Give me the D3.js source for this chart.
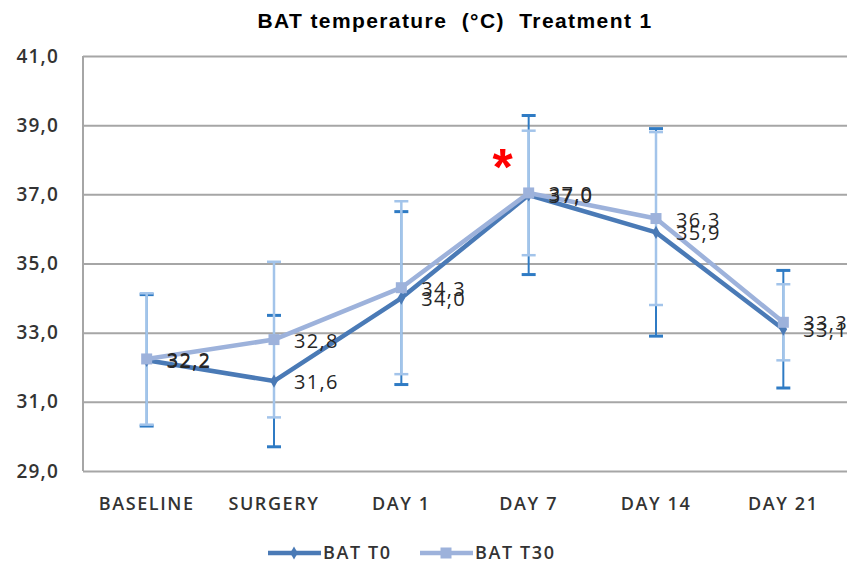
<!DOCTYPE html>
<html>
<head>
<meta charset="utf-8">
<script src="https://cdn.jsdelivr.net/npm/d3@7"></script>
<style>
  html, body { margin: 0; padding: 0; background: #fff; }
  svg { display: block; }
</style>
</head>
<body>
<svg id="chart" width="851" height="567"></svg>
<script>
// ---- data ----
const categories = ["BASELINE", "SURGERY", "DAY 1", "DAY 7", "DAY 14", "DAY 21"];
const seriesNames = ["BAT T0", "BAT T30"];
const t0Values  = [32.2, 31.6, 34.0, 36.98, 35.9, 33.1];
const t30Values = [32.24, 32.8, 34.3, 37.04, 36.3, 33.3];
const t0Errors  = [1.9, 1.9, 2.5, 2.3, 3.0, 1.7];
const t30Errors = [1.9, 2.25, 2.5, 1.8, 2.5, 1.1];
const yTicks = [29, 31, 33, 35, 37, 39, 41];
const titleText = "BAT temperature  (°C)  Treatment 1";
const significant = ["DAY 7"];

// ---- layout ----
const svg = d3.select("#chart");
const plotL = 83, plotR = 847, plotT = 56, plotB = 471;

const x = d3.scaleBand().domain(categories).range([plotL, plotR]);
const cx = c => x(c) + x.bandwidth() / 2;
const y = d3.scaleLinear().domain([29, 41]).range([plotB, plotT]);

const fmt = v => v.toFixed(1).replace(".", ",");

const colT0 = "#4a7ab6", colT30 = "#9db2db";
const errT0 = "#2f7bc4", errT30 = "#a3c4ea";
const axisFont = "'Open Sans', sans-serif";

// title
svg.append("text")
  .attr("x", 455).attr("y", 28)
  .attr("text-anchor", "middle")
  .attr("font-family", "'Liberation Sans', Arial, sans-serif")
  .attr("font-weight", "bold")
  .attr("font-size", 21)
  .attr("letter-spacing", 1.4)
  .attr("fill", "#000")
  .style("white-space", "pre")
  .text(titleText);

// y axis with gridlines
const yAxis = d3.axisLeft(y).tickValues(yTicks).tickSize(-(plotR - plotL)).tickFormat(d => fmt(d));
const gy = svg.append("g").attr("transform", `translate(${plotL},0)`).call(yAxis);
gy.select(".domain").attr("stroke", "#a6a6a6").attr("stroke-width", 2).attr("d", `M0,${plotT}V${plotB}`);
gy.selectAll(".tick line").attr("stroke", "#a6a6a6").attr("stroke-width", 2);
gy.selectAll(".tick text")
  .attr("x", -24)
  .attr("font-family", axisFont)
  .attr("font-weight", 600)
  .attr("font-size", 19)
  .attr("letter-spacing", 1.2)
  .attr("fill", "#333");

// x axis labels
const xAxis = d3.axisBottom(x).tickSize(0).tickPadding(0);
const gx = svg.append("g").attr("transform", `translate(0,${plotB})`).call(xAxis);
gx.select(".domain").remove();
gx.selectAll(".tick text")
  .attr("y", 33)
  .attr("dy", "0.35em")
  .attr("font-family", axisFont)
  .attr("font-weight", 600)
  .attr("font-size", 18)
  .attr("letter-spacing", 1.6)
  .attr("fill", "#333");

// error bars
function drawErr(values, errs, color, vw, cw, capHalf) {
  const g = svg.append("g");
  categories.forEach((c, i) => {
    const xx = cx(c), hi = y(values[i] + errs[i]), lo = y(values[i] - errs[i]);
    g.append("line").attr("x1", xx).attr("x2", xx).attr("y1", hi).attr("y2", lo)
      .attr("stroke", color).attr("stroke-width", vw);
    [hi, lo].forEach(yy => g.append("line")
      .attr("x1", xx - capHalf).attr("x2", xx + capHalf).attr("y1", yy).attr("y2", yy)
      .attr("stroke", color).attr("stroke-width", cw));
  });
}
drawErr(t0Values, t0Errors, errT0, 2, 3, 7);
drawErr(t30Values, t30Errors, errT30, 2.5, 2.5, 7);

// lines
const line = d3.line().x((d, i) => cx(categories[i])).y(d => y(d));
svg.append("path").datum(t0Values).attr("d", line)
  .attr("fill", "none").attr("stroke", colT0).attr("stroke-width", 4.5).attr("stroke-linejoin", "round");
svg.append("path").datum(t30Values).attr("d", line)
  .attr("fill", "none").attr("stroke", colT30).attr("stroke-width", 4.5).attr("stroke-linejoin", "round");

// markers
const diamond = d3.symbol().type(d3.symbolDiamond).size(50);
svg.append("g").selectAll("path").data(t0Values).join("path")
  .attr("d", diamond)
  .attr("transform", (d, i) => `translate(${cx(categories[i])},${y(d)})`)
  .attr("fill", colT0);
const sq = 11;
svg.append("g").selectAll("rect").data(t30Values).join("rect")
  .attr("x", (d, i) => cx(categories[i]) - sq / 2)
  .attr("y", d => y(d) - sq / 2)
  .attr("width", sq).attr("height", sq)
  .attr("fill", colT30);

// data labels
function drawLabels(values, dyOff) {
  svg.append("g").selectAll("text").data(values).join("text")
    .attr("x", (d, i) => cx(categories[i]) + 20)
    .attr("y", d => y(d) + dyOff)
    .attr("dy", "0.35em")
    .attr("font-family", axisFont)
    .attr("font-size", 20)
    .attr("letter-spacing", 1.3)
    .attr("fill", "#262626")
    .text(d => fmt(d));
}
drawLabels(t0Values, 1);
drawLabels(t30Values, 1);

// significance marker
significant.forEach(c => {
  const i = categories.indexOf(c);
  svg.append("text")
    .attr("x", cx(c) - 26)
    .attr("y", y(Math.max(t0Values[i] + t0Errors[i], t30Values[i] + t30Errors[i])) + 70)
    .attr("text-anchor", "middle")
    .attr("font-family", "'Liberation Sans', Arial, sans-serif")
    .attr("font-weight", "bold")
    .attr("font-size", 52)
    .attr("fill", "#ff0000")
    .text("*");
});

// legend
const legY = 553;
const legend = svg.append("g");
const legItems = [
  { name: seriesNames[0], color: colT0, x0: 268, type: "diamond" },
  { name: seriesNames[1], color: colT30, x0: 420, type: "square" }
];
legItems.forEach(it => {
  legend.append("line").attr("x1", it.x0).attr("x2", it.x0 + 53).attr("y1", legY).attr("y2", legY)
    .attr("stroke", it.color).attr("stroke-width", 4.5);
  if (it.type === "diamond") {
    legend.append("path").attr("d", diamond).attr("transform", `translate(${it.x0 + 26},${legY})`).attr("fill", it.color);
  } else {
    legend.append("rect").attr("x", it.x0 + 26 - sq / 2).attr("y", legY - sq / 2).attr("width", sq).attr("height", sq).attr("fill", it.color);
  }
  legend.append("text").attr("x", it.x0 + 55).attr("y", legY).attr("dy", "0.35em")
    .attr("font-family", axisFont).attr("font-weight", 600).attr("font-size", 18).attr("letter-spacing", 1.6)
    .attr("fill", "#333").text(it.name);
});
</script>
</body>
</html>
